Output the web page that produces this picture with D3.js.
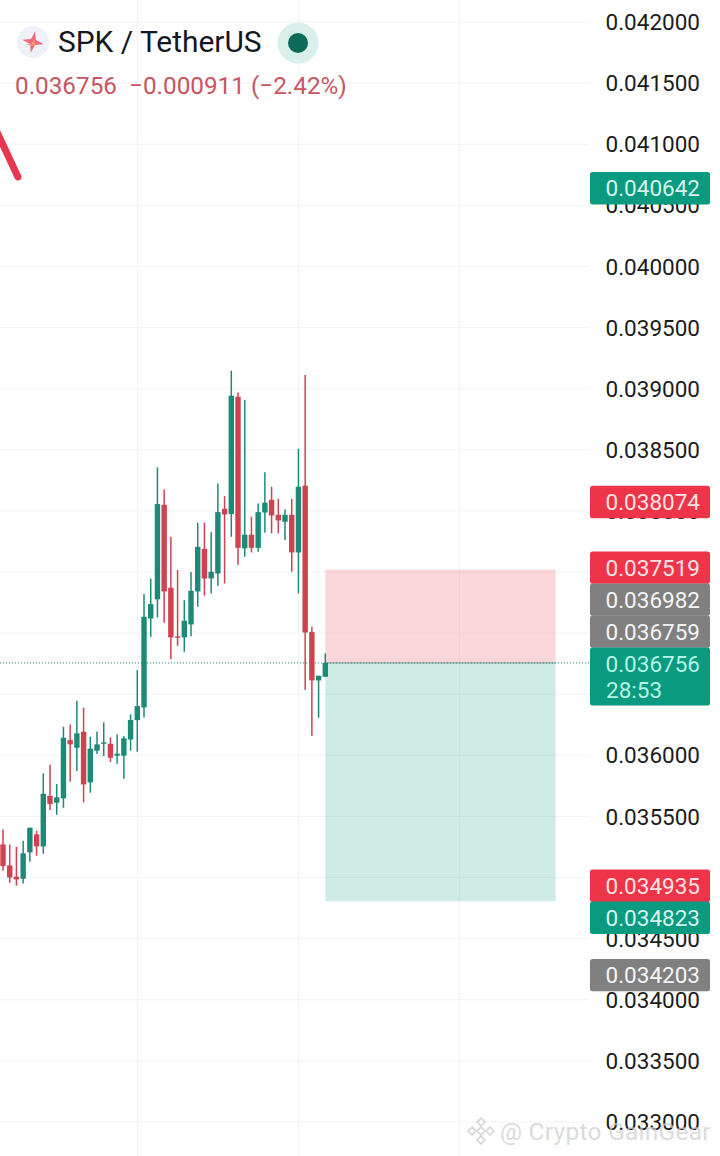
<!DOCTYPE html>
<html><head><meta charset="utf-8">
<script src="https://cdnjs.cloudflare.com/ajax/libs/d3/7.8.5/d3.min.js"></script>
<style>html,body{margin:0;padding:0;background:#fff}svg{display:block;font-family:Roboto,sans-serif}</style>
</head><body><svg id="c" width="720" height="1156"></svg>
<script>
// prices in millionths of USDT
const opens=[35271,35099,35007,34990,35206,35353,35255,35669,35612,35648,36125,36062,36193,35779,36038,36095,36095,35997,35997,36130,36288,36392,37120,37276,38050,37371,36973,36965,37071,37341,37690,37447,37488,38017,37974,38934,37693,37805,37698,37987,38091,37968,37911,37968,37660,38206,37008,36613,36643];
const highs=[35394,35271,35252,35301,35408,35383,35852,35923,35765,36234,36253,36447,36390,36152,36196,36270,36147,36171,36158,36335,36697,37319,37445,38356,38176,37788,37516,37270,37499,37903,37903,37826,38225,38121,39147,38969,38907,37952,38061,38317,38197,38099,38012,38099,38508,39111,37052,36651,36834];
const lows=[35056,34958,34933,34952,35129,35178,35195,35552,35514,35571,35784,35871,35615,35694,36010,35994,35945,35931,35809,36038,36029,36310,36970,37128,37085,36787,36896,36847,36975,37216,37306,37325,37387,37406,37788,37559,37625,37660,37666,37821,37816,37816,37761,37502,37325,36534,36160,36307,36643];
const closes=[35094,35001,34985,35198,35408,35255,35686,35601,35656,36144,36090,36180,35762,36054,36090,36106,35980,36013,36139,36289,36403,37134,37237,38056,37341,36965,36965,37101,37346,37706,37447,37502,37990,37971,38942,37698,37805,37698,37990,38067,37963,37922,37968,37660,38197,37005,36613,36651,36756];
const tickValues=[42000,41500,41000,40500,40000,39500,39000,38500,38000,37500,37000,36500,36000,35500,35000,34500,34000,33500,33000];
const gridCandles=[20,44,68];
const trendIndex=[-0.9,2.23];
const trendPrice=[41100,40732];
const positionIndex=[48,82.3];
const positionStop=37519, positionEntry=36756, positionTarget=34806;
const lastPrice=36756;
const countdown="28:53";
const tagValues=[40642,38074,37519,36982,36759,36756,34935,34823,34203];
const tagKinds=["up","down","down","gray","gray","last","down","up","gray"];
const legendTitle="SPK / TetherUS";
const legendValues="0.036756  \u22120.000911 (\u22122.42%)";
const watermark="@ Crypto GainGear";

const W=720,H=1156,axisX=590;
const GREEN="#1d8a77",RED="#cf4250";
const tagFill={up:"#0a9a80",down:"#ee3448",gray:"#808080",last:"#0a9a80"};
const tagText={up:"#d6f5ee",down:"#fde3e5",gray:"#f5f5f5",last:"#b5f5e6"};
const fmt=v=>(v/1e6).toFixed(6);
const svg=d3.select("#c");
const x=d3.scaleLinear().domain([20,48]).range([137.3,325.3]);
const y=d3.scaleLinear().domain([42000,33000]).range([22,1122]);
svg.append("rect").attr("width",W).attr("height",H).attr("fill","#fff");

// grid
const grid=svg.append("g").attr("stroke","#f2f3f5").attr("stroke-width",1);
grid.selectAll(".h").data(tickValues).join("line").attr("x1",0).attr("x2",axisX).attr("y1",d=>y(d)).attr("y2",d=>y(d));
grid.selectAll(".v").data(gridCandles).join("line").attr("x1",d=>x(d)).attr("x2",d=>x(d)).attr("y1",0).attr("y2",H);

// axis labels
svg.append("g").selectAll("text").data(tickValues).join("text")
 .attr("x",700).attr("y",d=>y(d)).attr("dy","0.36em").attr("text-anchor","end")
 .attr("font-size",22.5).attr("fill","#1a1c20").text(fmt);

// trend stroke
svg.append("line").attr("x1",x(trendIndex[0])).attr("y1",y(trendPrice[0])).attr("x2",x(trendIndex[1])).attr("y2",y(trendPrice[1]))
 .attr("stroke","#e7374f").attr("stroke-width",7).attr("stroke-linecap","round");

// position
const px=x(positionIndex[0]),pw=x(positionIndex[1])-px;
svg.append("rect").attr("x",px).attr("width",pw).attr("y",y(positionStop)).attr("height",y(positionEntry)-y(positionStop)).attr("fill","#f23645").attr("fill-opacity",.2);
svg.append("rect").attr("x",px).attr("width",pw).attr("y",y(positionEntry)).attr("height",y(positionTarget)-y(positionEntry)).attr("fill","#089981").attr("fill-opacity",.2);
svg.append("line").attr("x1",px).attr("x2",px+pw).attr("y1",y(positionEntry)).attr("y2",y(positionEntry)).attr("stroke","#7f9a96").attr("stroke-width",1);

// last price
svg.append("line").attr("x1",0).attr("x2",axisX).attr("y1",y(lastPrice)).attr("y2",y(lastPrice))
 .attr("stroke","#1d8a77").attr("stroke-width",1).attr("stroke-dasharray","1 2");

// candles
const candles=opens.map((o,i)=>({i,o,h:highs[i],l:lows[i],c:closes[i],col:closes[i]>=o?GREEN:RED}));
const g=svg.append("g");
g.selectAll("line").data(candles).join("line").attr("x1",d=>x(d.i)).attr("x2",d=>x(d.i)).attr("y1",d=>y(d.h)).attr("y2",d=>y(d.l)).attr("stroke",d=>d.col).attr("stroke-width",1.5);
g.selectAll("rect").data(candles).join("rect").attr("x",d=>x(d.i)-2.7).attr("width",5.4)
 .attr("y",d=>y(Math.max(d.o,d.c))).attr("height",d=>Math.max(1.4,Math.abs(y(d.o)-y(d.c)))).attr("fill",d=>d.col);

// price tags, stacked away from the last-price tag
const TAG=32,LASTH=57.7;
const tags=tagValues.map((v,i)=>({v,kind:tagKinds[i],h:tagKinds[i]==="last"?LASTH:TAG,top:tagKinds[i]==="last"?y(v)-15.5:y(v)-TAG/2})).sort((a,b)=>a.top-b.top);
const li=tags.findIndex(t=>t.kind==="last");
for(let i=li-1;i>=0;i--){const n=tags[i+1];if(tags[i].top+tags[i].h>n.top)tags[i].top=n.top-tags[i].h;}
for(let i=li+1;i<tags.length;i++){const p=tags[i-1];if(tags[i].top<p.top+p.h)tags[i].top=p.top+p.h;}
const tg=svg.append("g").selectAll("g").data(tags).join("g").attr("transform",d=>`translate(${axisX},${d.top})`);
tg.append("rect").attr("width",120).attr("height",d=>d.h+0.4).attr("rx",2.5).attr("fill",d=>tagFill[d.kind]);
tg.append("text").attr("x",110).attr("y",16.4).attr("dy","0.36em").attr("text-anchor","end").attr("font-size",22.5).attr("fill",d=>tagText[d.kind]).text(d=>fmt(d.v));
tg.filter(d=>d.kind==="last").append("text").attr("x",16).attr("y",42.8).attr("dy","0.36em").attr("font-size",22.5).attr("fill",d=>tagText[d.kind]).text(countdown);

// legend
svg.append("circle").attr("cx",33).attr("cy",42).attr("r",16).attr("fill","#eef1f8");
const star=d3.lineRadial().angle((d,i)=>i*Math.PI/4+0.2).radius(d=>d).curve(d3.curveLinearClosed);
svg.append("path").attr("transform","translate(33,42)").attr("d",star([11,3.5,11,3.5,11,3.5,11,3.5])).attr("fill","#ef6a7f");
svg.append("path").attr("transform","translate(33,46)").attr("d",star([7,2.5,0,0,0,0,7,2.5])).attr("fill","#f59a6a");
svg.append("text").attr("x",58).attr("y",52).attr("font-size",29.9).attr("fill","#131722").text(legendTitle);
svg.append("circle").attr("cx",298).attr("cy",43).attr("r",20.5).attr("fill","#d9efea");
svg.append("circle").attr("cx",298).attr("cy",43).attr("r",10).attr("fill","#0c6b58");
svg.append("text").attr("x",15).attr("y",94).attr("font-size",24.3).attr("fill","#c95562").style("white-space","pre").text(legendValues);

// watermark
const wm=svg.append("g").attr("opacity",.75);
const dia=(cx,cy,s)=>wm.append("path").attr("d",`M${cx} ${cy-s}L${cx+s} ${cy}L${cx} ${cy+s}L${cx-s} ${cy}Z`).attr("fill","none").attr("stroke","#cfcfcf").attr("stroke-width",1.8);
dia(481,1131,4);dia(481,1122,4);dia(481,1140,4);dia(472,1131,4);dia(490,1131,4);
wm.append("text").attr("x",500).attr("y",1140).attr("font-size",24.5).attr("letter-spacing",.25).attr("fill","#cfcfcf").text(watermark);
</script></body></html>
